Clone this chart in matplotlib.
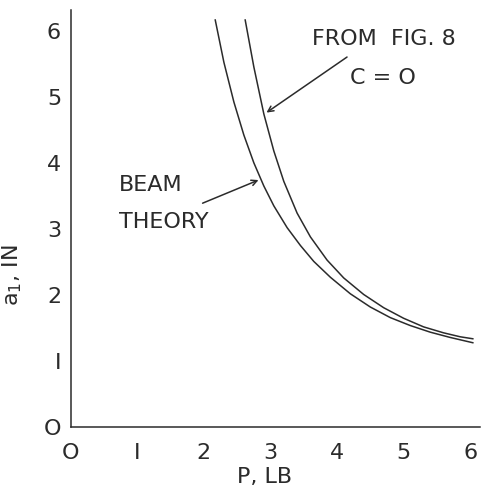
import matplotlib
matplotlib.use('Agg')
from matplotlib import pyplot as plt

# beam theory curve
beam_p = [2.17, 2.30, 2.45, 2.60, 2.75, 2.90, 3.05, 3.25, 3.45, 3.65, 3.90,
          4.20, 4.50, 4.80, 5.10, 5.40, 5.70, 6.04]
beam_a = [6.16, 5.52, 4.92, 4.42, 4.00, 3.65, 3.35, 3.02, 2.75, 2.51, 2.27,
          2.02, 1.82, 1.66, 1.54, 1.44, 1.36, 1.28]

# curve from fig. 8, c = 0
fig8_p = [2.62, 2.75, 2.90, 3.05, 3.20, 3.40, 3.60, 3.85, 4.10, 4.40, 4.70,
          5.00, 5.30, 5.60, 5.85, 6.04]
fig8_a = [6.16, 5.45, 4.74, 4.18, 3.72, 3.24, 2.88, 2.53, 2.26, 2.01, 1.81,
          1.65, 1.52, 1.43, 1.37, 1.34]

ticks = [0, 1, 2, 3, 4, 5, 6]
tick_labels = ['O', 'I', '2', '3', '4', '5', '6']

ink = '#2b2b2b'
fs = 16

fig = plt.figure(figsize=(4.85, 5.04), dpi=100)
ax = fig.add_axes([0.146, 0.152, 0.844, 0.828])

ax.plot(beam_p, beam_a, color=ink, lw=1.1)
ax.plot(fig8_p, fig8_a, color=ink, lw=1.1)

ax.set_xlim(0, 6.15)
ax.set_ylim(0, 6.31)
ax.set_xticks(ticks)
ax.set_xticklabels(tick_labels)
ax.set_yticks(ticks)
ax.set_yticklabels(tick_labels)
ax.tick_params(axis='x', length=0, pad=11, labelsize=fs, labelcolor=ink)
ax.tick_params(axis='y', length=0, pad=7, labelsize=fs, labelcolor=ink)

for side in ['top', 'right']:
    ax.spines[side].set_visible(False)
for side in ['left', 'bottom']:
    ax.spines[side].set_color(ink)
    ax.spines[side].set_linewidth(1.1)

ax.set_xlabel('P, LB', fontsize=fs, color=ink)
ax.xaxis.set_label_coords(0.474, -0.095)
ax.set_ylabel('a$_1$, IN', fontsize=fs, color=ink)
ax.yaxis.set_label_coords(-0.115, 0.365)

# labels with arrows
ax.text(4.71, 5.88, 'FROM  FIG. 8', ha='center', va='center', fontsize=fs, color=ink)
ax.text(4.69, 5.29, 'C = O', ha='center', va='center', fontsize=fs, color=ink)
ax.annotate('', xy=(2.94, 4.76), xytext=(4.15, 5.60),
            arrowprops=dict(arrowstyle='->', color=ink, lw=1.1,
                            shrinkA=0, shrinkB=0))

ax.text(0.72, 3.66, 'BEAM', ha='left', va='center', fontsize=fs, color=ink)
ax.text(0.72, 3.10, 'THEORY', ha='left', va='center', fontsize=fs, color=ink)
ax.annotate('', xy=(2.82, 3.74), xytext=(1.98, 3.39),
            arrowprops=dict(arrowstyle='->', color=ink, lw=1.1,
                            shrinkA=0, shrinkB=0))

fig.savefig('out.png', dpi=100)
